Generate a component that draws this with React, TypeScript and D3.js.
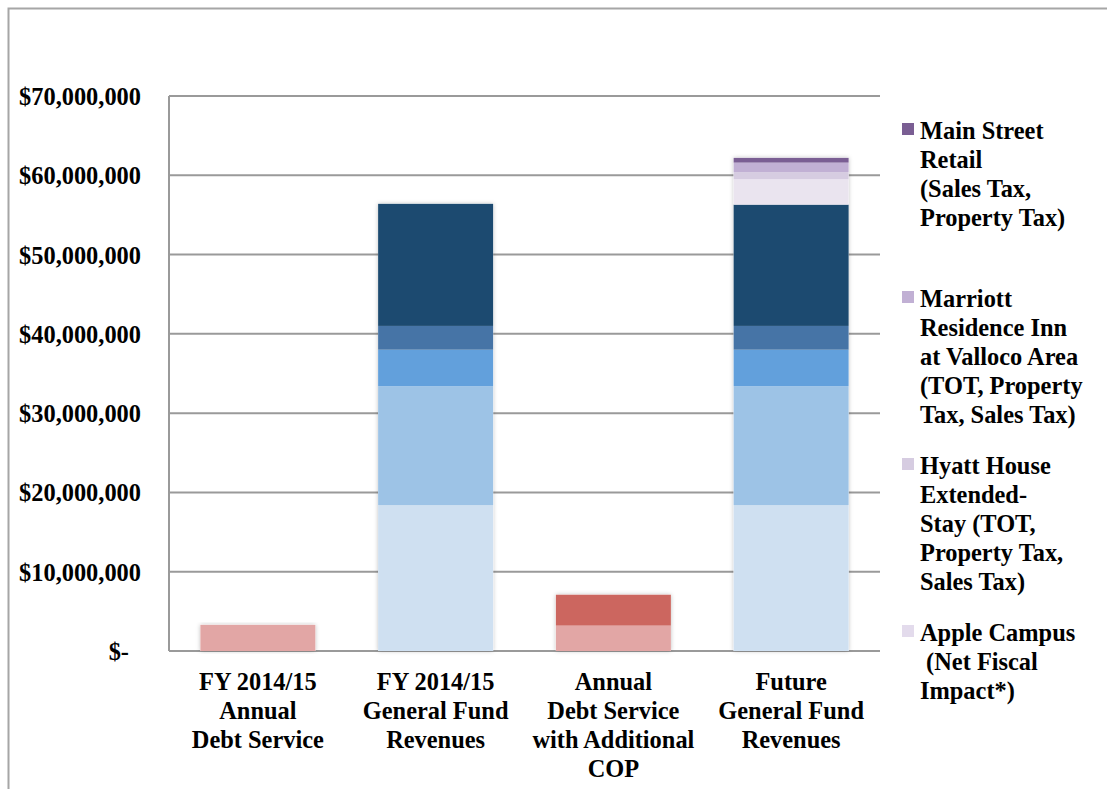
import React from "react";
import * as d3 from "d3";

const categories = [
  ["FY 2014/15", "Annual", "Debt Service"],
  ["FY 2014/15", "General Fund", "Revenues"],
  ["Annual", "Debt Service", "with Additional", "COP"],
  ["Future", "General Fund", "Revenues"],
];

// values in $ millions
const debtService = [3.3, 0, 3.2, 0];
const additionalCOP = [0, 0, 3.9, 0];
const revenue1 = [0, 18.4, 0, 18.4];
const revenue2 = [0, 15.0, 0, 15.0];
const revenue3 = [0, 4.6, 0, 4.6];
const revenue4 = [0, 3.0, 0, 3.0];
const revenue5 = [0, 15.4, 0, 15.3];
const appleCampus = [0, 0, 0, 3.2];
const hyattHouse = [0, 0, 0, 0.9];
const marriott = [0, 0, 0, 1.2];
const mainStreet = [0, 0, 0, 0.6];

const yTicks = [0, 10, 20, 30, 40, 50, 60, 70];

const series = [
  { key: "debt", values: debtService, color: "#E2A6A5" },
  { key: "cop", values: additionalCOP, color: "#CC665F" },
  { key: "r1", values: revenue1, color: "#CFE0F1" },
  { key: "r2", values: revenue2, color: "#9DC3E6" },
  { key: "r3", values: revenue3, color: "#62A0DC" },
  { key: "r4", values: revenue4, color: "#4674A6" },
  { key: "r5", values: revenue5, color: "#1C4A70" },
  { key: "apple", values: appleCampus, color: "#EAE4EF" },
  { key: "hyatt", values: hyattHouse, color: "#D6CCE1" },
  { key: "marriott", values: marriott, color: "#C1B0D4" },
  { key: "main", values: mainStreet, color: "#7A5E93" },
];

const legendItems = [
  { lines: ["Main Street", "Retail", "(Sales Tax,", "Property Tax)"], color: "#7A5E93" },
  { lines: ["Marriott", "Residence Inn", "at Valloco Area", "(TOT, Property", "Tax, Sales Tax)"], color: "#C1B0D4" },
  { lines: ["Hyatt House", "Extended-", "Stay (TOT,", "Property Tax,", "Sales Tax)"], color: "#D6CCE1" },
  { lines: ["Apple Campus", " (Net Fiscal", "Impact*)"], color: "#E3DBEC" },
];
const legendTops = [139, 307, 474, 641];

export default function App() {
  const W = 1107, H = 789;
  const left = 169, right = 880, top = 96, bottom = 651;
  const y = d3.scaleLinear().domain([0, 70]).range([bottom, top]);
  const x = d3
    .scaleBand<number>()
    .domain(categories.map((_, i) => i))
    .range([left, right])
    .paddingInner(0.353)
    .paddingOuter(0.1765);

  const stackData = categories.map((_, i) => {
    const o: Record<string, number> = {};
    series.forEach((s) => (o[s.key] = s.values[i]));
    return o;
  });
  const stacked = d3.stack<Record<string, number>>().keys(series.map((s) => s.key))(stackData);

  const font = "'Liberation Serif', 'Times New Roman', serif";
  const fs = 24.4;
  const fmt = (v: number) => (v === 0 ? "$-" : "$" + d3.format(",")(v * 1000000));

  return (
    <svg width={W} height={H} style={{ position: "absolute", left: 0, top: 0, background: "#fff" }} fontFamily={font}>
      <defs>
        <filter id="sh" x="-10%" y="-10%" width="120%" height="120%">
          <feDropShadow dx="0" dy="0" stdDeviation="2" floodColor="#000" floodOpacity="0.25" />
        </filter>
      </defs>
      <rect x={8.5} y={8.5} width={1300} height={1000} fill="#fff" stroke="#a6a6a6" strokeWidth={2} />
      {/* gridlines */}
      {yTicks.map((t) => (
        <line key={t} x1={left} x2={right} y1={y(t)} y2={y(t)} stroke="#9a9a9a" strokeWidth={2} />
      ))}
      <line x1={left} x2={left} y1={top} y2={bottom} stroke="#9a9a9a" strokeWidth={2} />
      {yTicks.map((t) => (
        <text
          key={"l" + t}
          x={t === 0 ? 129 : 141}
          y={y(t) + 9}
          textAnchor="end"
          fontSize={fs}
          fontWeight="bold"
          fill="#000"
        >
          {fmt(t)}
        </text>
      ))}
      {/* bars */}
      <g>
        {categories.map((_, i) => {
          const tot = stacked[stacked.length - 1][i][1];
          const bx = x(i)!;
          return (
            <g key={i}>
              <rect x={bx} y={y(tot)} width={x.bandwidth()} height={y(0) - y(tot)} fill="#fff" filter="url(#sh)" />
              {stacked.map((layer, li) => {
                const [a, b] = layer[i];
                if (b - a <= 0) return null;
                return (
                  <rect
                    key={li}
                    x={bx}
                    y={y(b)}
                    width={x.bandwidth()}
                    height={y(a) - y(b)}
                    fill={series[li].color}
                  />
                );
              })}
            </g>
          );
        })}
      </g>
      {/* category labels */}
      {categories.map((lines, i) => (
        <text
          key={"c" + i}
          x={x(i)! + x.bandwidth() / 2}
          textAnchor="middle"
          fontSize={fs}
          fontWeight="bold"
          fill="#000"
        >
          {lines.map((l, j) => (
            <tspan key={j} x={x(i)! + x.bandwidth() / 2} y={690 + j * 29}>
              {l}
            </tspan>
          ))}
        </text>
      ))}
      {/* legend */}
      {legendItems.map((it, k) => (
        <g key={"lg" + k}>
          <rect x={902} y={legendTops[k] - 16} width={12} height={12} fill={it.color} />
          <text fontSize={fs} fontWeight="bold" fill="#000" xmlSpace="preserve">
            {it.lines.map((l, j) => (
              <tspan key={j} x={920} y={legendTops[k] + j * 29} style={{ whiteSpace: "pre" }}>
                {l}
              </tspan>
            ))}
          </text>
        </g>
      ))}
    </svg>
  );
}
